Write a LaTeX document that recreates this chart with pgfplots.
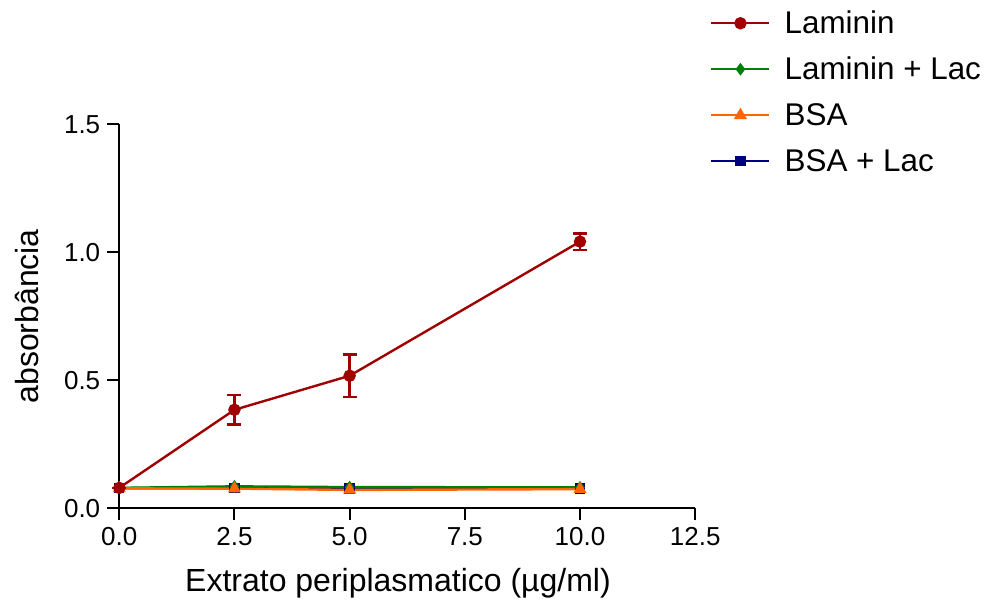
\documentclass[border=0pt]{standalone}
\usepackage{pgfplots}
\pgfplotsset{compat=1.18}
\usepackage{fontspec}
\setmainfont{Liberation Sans}

\definecolor{lamred}{RGB}{160,0,0}
\definecolor{lacgreen}{RGB}{0,128,0}
\definecolor{bsaorange}{RGB}{255,102,0}
\definecolor{bsanavy}{RGB}{0,0,128}

\begin{document}
\begin{tikzpicture}
\begin{axis}[
    scale only axis,
    width=288pt, height=192pt,
    xmin=0, xmax=12.5, ymin=0, ymax=1.5,
    axis x line=bottom, axis y line=left,
    axis line style={line width=1pt, -},
    xtick={0,2.5,5,7.5,10,12.5},
    ytick={0,0.5,1,1.5},
    tick style={line width=1pt, black},
    major tick length=6pt,
    tick align=outside,
    x tick label style={/pgf/number format/.cd, fixed, fixed zerofill, precision=1},
    y tick label style={/pgf/number format/.cd, fixed, fixed zerofill, precision=1},
    /pgf/number format/assume math mode=true,
    tick label style={font=\fontsize{13}{15}\selectfont},
    xlabel={Extrato periplasmatico (µg/ml)},
    ylabel={absorbância},
    label style={font=\fontsize{16}{19}\selectfont},
    xlabel style={at={(rel axis cs:0.484,-0.194)}, anchor=center},
    ylabel style={at={(rel axis cs:-0.16,0.5)}, anchor=center},
    clip=false,
    legend style={at={(rel axis cs:1.0255,1.31)}, anchor=north west, draw=none,
        inner sep=0pt, font=\fontsize{15.7}{18}\selectfont, row sep=5.5pt,
        cells={anchor=west, text height=12pt, text depth=3.8pt},
        /tikz/every odd column/.append style={column sep=5pt}},
    legend image code/.code={%
        \draw[#1, line width=1.2pt, mark repeat=2, mark phase=2]
            plot coordinates {(0pt,0pt) (14.5pt,0pt) (29pt,0pt)};},
]
% legend entries in the reference's order
\addlegendimage{color=lamred, mark=*, mark size=2.5pt}
\addlegendentry{Laminin}
\addlegendimage{color=lacgreen, mark=diamond*, mark size=2.2pt}
\addlegendentry{Laminin + Lac}
\addlegendimage{color=bsaorange, mark=triangle*, mark size=2.6pt}
\addlegendentry{BSA}
\addlegendimage{color=bsanavy, mark=square*, mark size=2pt}
\addlegendentry{BSA + Lac}

\addplot[forget plot, line width=1.2pt, color=bsanavy, mark=square*, mark size=2pt] coordinates {
    (0, 0.079) (2.5, 0.079) (5, 0.077) (10, 0.077)
};
\addplot[forget plot, line width=1.2pt, color=lacgreen, mark=diamond*, mark size=2.2pt] coordinates {
    (0, 0.080) (2.5, 0.086) (5, 0.083) (10, 0.082)
};
\addplot[forget plot, line width=1.2pt, color=bsaorange, mark=triangle*, mark size=2.6pt] coordinates {
    (0, 0.078) (2.5, 0.077) (5, 0.072) (10, 0.075)
};
\addplot[forget plot, line width=1.2pt, color=lamred, mark=*, mark size=2.5pt,
    error bars/.cd, y dir=both, y explicit,
    error bar style={line width=1.2pt},
    error mark options={rotate=90, mark size=3.5pt, line width=1.2pt}]
    coordinates {
    (0, 0.080) +- (0,0)
    (2.5, 0.385) +- (0,0.058)
    (5, 0.518) +- (0,0.083)
    (10, 1.042) +- (0,0.032)
};
% keep the page the size of the reference
\path (rel axis cs:-0.2071,-0.2487) rectangle (rel axis cs:1.503,1.324);
\end{axis}
\end{tikzpicture}
\end{document}
